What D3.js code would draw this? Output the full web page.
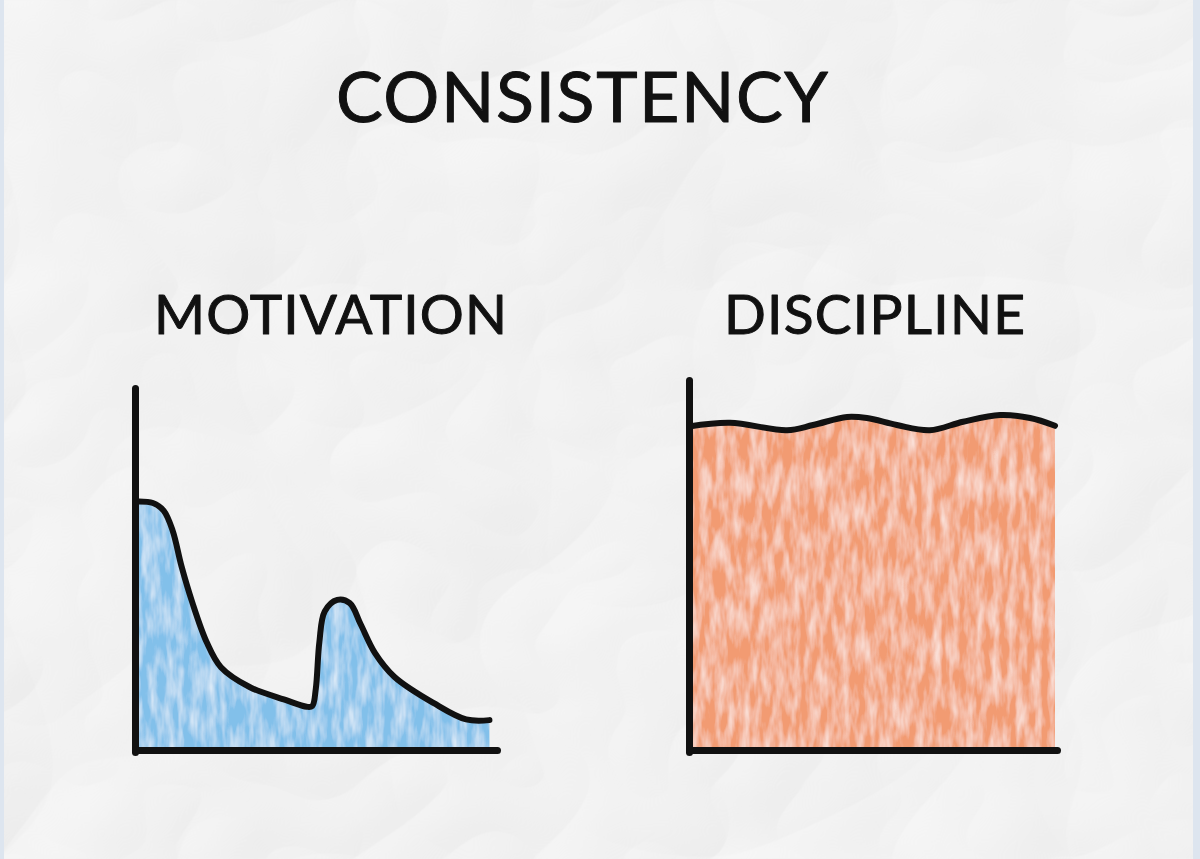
<!DOCTYPE html>
<head>
    <meta charset="utf-8">
    <script src="https://d3js.org/d3.v7.min.js"></script>
    <style>
        body { margin: 0; background: #eeeeee; overflow: hidden; }
        text { font-family: Lato, "Open Sans", sans-serif; fill: #111; stroke: #111; stroke-width: 1; stroke-linejoin: round; }
    </style>
</head>
<body>
<script>
    const width = 1200, height = 859;

    // chart text
    const title = "CONSISTENCY";
    const panelNames = ["MOTIVATION", "DISCIPLINE"];

    // motivation over time (0..100 on both axes)
    const motivationX = [0, 5, 8, 10.5, 13, 16, 20, 24, 32, 42, 48, 49.5, 50.5, 51.5, 53, 56.5, 60, 63, 67, 72.5, 83.5, 92.5, 99];
    const motivationY = [69, 68.6, 66.5, 61, 51, 41, 30, 23, 17.5, 13.9, 12, 12.2, 17, 30, 38.5, 41.7, 40.8, 35, 27, 20.3, 13, 8.5, 8.3];

    // discipline over time
    const disciplineX = [0, 11.2, 26.8, 33.9, 43.2, 48.6, 56.8, 65.8, 74.9, 85, 93.2, 100];
    const disciplineY = [87.9, 88.9, 86.9, 88.3, 90.5, 90.2, 88.3, 86.9, 89.2, 91, 90.2, 88.1];

    const motivation = motivationX.map((x, i) => ({x: x, y: motivationY[i]}));
    const discipline = disciplineX.map((x, i) => ({x: x, y: disciplineY[i]}));

    const svg = d3.select("body").append("svg")
        .attr("width", width)
        .attr("height", height);

    const defs = svg.append("defs");

    // crumpled paper look
    const paper = defs.append("filter").attr("id", "paper")
        .attr("x", 0).attr("y", 0).attr("width", "100%").attr("height", "100%");
    paper.append("feTurbulence")
        .attr("type", "turbulence").attr("baseFrequency", "0.0028 0.0035")
        .attr("numOctaves", 3).attr("seed", 9).attr("result", "noise");
    paper.append("feDiffuseLighting")
        .attr("in", "noise").attr("lighting-color", "#fff")
        .attr("surfaceScale", 10).attr("result", "light")
        .append("feDistantLight").attr("azimuth", 225).attr("elevation", 50);
    const ct = paper.append("feComponentTransfer").attr("in", "light");
    ["feFuncR", "feFuncG", "feFuncB"].forEach(f =>
        ct.append(f).attr("type", "linear").attr("slope", 0.32).attr("intercept", 0.64));

    // crayon streaks, mostly vertical
    function crayon(id, seed) {
        const f = defs.append("filter").attr("id", id)
            .attr("x", 0).attr("y", 0).attr("width", "100%").attr("height", "100%");
        f.append("feTurbulence")
            .attr("type", "fractalNoise").attr("baseFrequency", "0.12 0.03")
            .attr("numOctaves", 3).attr("seed", seed).attr("result", "t");
        f.append("feColorMatrix").attr("in", "t").attr("type", "matrix")
            .attr("values", "0 0 0 0 1  0 0 0 0 1  0 0 0 0 1  1.1 0 0 0 -0.38")
            .attr("result", "streak");
        f.append("feComposite").attr("in", "streak").attr("in2", "SourceGraphic")
            .attr("operator", "in").attr("result", "lit");
        const m = f.append("feMerge");
        m.append("feMergeNode").attr("in", "SourceGraphic");
        m.append("feMergeNode").attr("in", "lit");
    }
    crayon("crayonBlue", 3);
    crayon("crayonOrange", 11);

    svg.append("rect")
        .attr("width", width).attr("height", height)
        .attr("fill", "#eee")
        .attr("filter", "url(#paper)");

    // thin bluish edges of the scan
    svg.append("rect").attr("x", 0).attr("y", 0).attr("width", 4).attr("height", height).attr("fill", "#dde5ef");
    svg.append("rect").attr("x", 1193).attr("y", 0).attr("width", 7).attr("height", height).attr("fill", "#dde5ef");

    svg.append("text")
        .attr("x", 336).attr("y", 122)
        .attr("font-size", 70)
        .attr("textLength", 492).attr("lengthAdjust", "spacing")
        .text(title);

    const panels = [
        {name: panelNames[0], data: motivation, x0: 135, x1: 497, yTop: 388, fill: "#82c0ea", filter: "url(#crayonBlue)", tx: 154, tw: 353, edge: 493},
        {name: panelNames[1], data: discipline, x0: 689, x1: 1057, yTop: 380, fill: "#f29b72", filter: "url(#crayonOrange)", tx: 724, tw: 301, edge: 1055}
    ];

    const baseY = 750;

    panels.forEach(p => {
        const x = d3.scaleLinear().domain([0, 100]).range([p.x0, p.x1]);
        const xArea = d3.scaleLinear().domain([0, 100]).range([p.x0, p.edge]);
        const y = d3.scaleLinear().domain([0, 100]).range([baseY, p.yTop + 2]);
        const curve = d3.curveCatmullRom.alpha(0.5);

        svg.append("text")
            .attr("x", p.tx).attr("y", 334)
            .attr("font-size", 55)
            .attr("textLength", p.tw).attr("lengthAdjust", "spacing")
            .text(p.name);

        const area = d3.area()
            .x(d => xArea(d.x)).y0(y(0)).y1(d => y(d.y))
            .curve(curve);
        const line = d3.line()
            .x(d => xArea(d.x)).y(d => y(d.y))
            .curve(curve);

        svg.append("path")
            .datum(p.data)
            .attr("d", area)
            .attr("fill", p.fill)
            .attr("filter", p.filter);

        svg.append("path")
            .datum(p.data)
            .attr("d", line)
            .attr("fill", "none")
            .attr("stroke", "#111")
            .attr("stroke-width", 6)
            .attr("stroke-linecap", "round")
            .attr("stroke-linejoin", "round");

        const yAxis = svg.append("g")
            .attr("transform", `translate(${p.x0},0)`)
            .call(d3.axisLeft(y.copy().range([baseY + 2, p.yTop])).ticks(0).tickSizeOuter(0));
        const xAxis = svg.append("g")
            .attr("transform", `translate(0,${baseY})`)
            .call(d3.axisBottom(x).ticks(0).tickSizeOuter(0));

        [yAxis, xAxis].forEach(g => g.select(".domain")
            .attr("stroke", "#111")
            .attr("stroke-width", 7)
            .attr("stroke-linecap", "round"));
    });
</script>
</body>
